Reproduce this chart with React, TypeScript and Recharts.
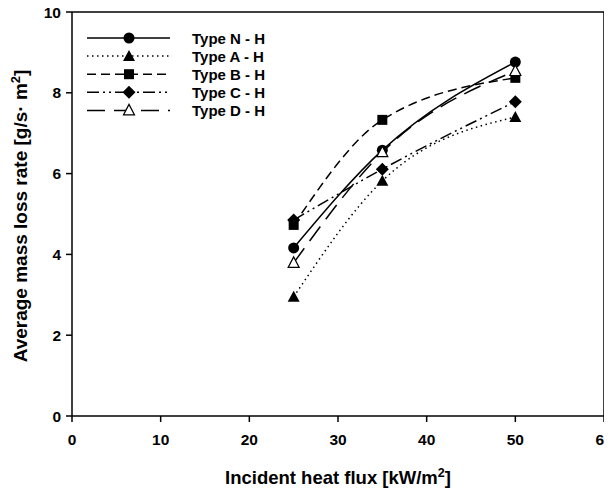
import React from 'react';
import { LineChart, Line, XAxis, YAxis, Legend, ReferenceLine } from 'recharts';

const xValues = [25, 35, 50];
const typeN = [4.16, 6.58, 8.76];
const typeA = [2.95, 5.82, 7.4];
const typeB = [4.73, 7.33, 8.37];
const typeC = [4.85, 6.11, 7.78];
const typeD = [3.79, 6.53, 8.54];
const seriesNames = ['Type N - H', 'Type A - H', 'Type B - H', 'Type C - H', 'Type D - H'];
const xTicks = [0, 10, 20, 30, 40, 50, 60];
const yTicks = [0, 2, 4, 6, 8, 10];

const seriesKeys = ['N', 'A', 'B', 'C', 'D'];
const seriesValues = [typeN, typeA, typeB, typeC, typeD];
const data = xValues.map((x, i) => {
  const row: any = { x };
  seriesKeys.forEach((k, j) => (row[k] = seriesValues[j][i]));
  return row;
});

const dashes = [undefined, '1.5 3.5', '9 5', '12 4 2 4 2 4', '18 9'];
const markers = ['circle', 'triangle', 'square', 'diamond', 'triangleOpen'];
const FONT = '"Liberation Sans", Arial, sans-serif';

function Marker({ kind, cx, cy }: { kind: string; cx: number; cy: number }) {
  if (kind === 'circle') return <circle cx={cx} cy={cy} r={5.5} fill="#000" />;
  if (kind === 'triangle')
    return <polygon points={`${cx},${cy - 6} ${cx - 6},${cy + 5} ${cx + 6},${cy + 5}`} fill="#000" />;
  if (kind === 'triangleOpen')
    return (
      <polygon
        points={`${cx},${cy - 6} ${cx - 5.5},${cy + 4.5} ${cx + 5.5},${cy + 4.5}`}
        fill="#fff"
        stroke="#000"
        strokeWidth={1.2}
      />
    );
  if (kind === 'square') return <rect x={cx - 5} y={cy - 5} width={10} height={10} fill="#000" />;
  if (kind === 'diamond')
    return <polygon points={`${cx},${cy - 6.5} ${cx + 6.5},${cy} ${cx},${cy + 6.5} ${cx - 6.5},${cy}`} fill="#000" />;
  return null;
}

function LegendBox() {
  return (
    <svg width={220} height={100} style={{ overflow: 'visible' }}>
      {seriesNames.map((name, i) => {
        const y = 10 + i * 18.1;
        return (
          <g key={name}>
            <line x1={9} x2={92} y1={y} y2={y} stroke="#000" strokeWidth={1.5} strokeDasharray={dashes[i]} />
            <Marker kind={markers[i]} cx={51} cy={y} />
            <text x={114} y={y + 5.5} fontFamily={FONT} fontWeight="bold" fontSize={15} fill="#000">
              {name}
            </text>
          </g>
        );
      })}
    </svg>
  );
}

const YLabel = () => (
  <text
    x={27}
    y={216}
    transform="rotate(-90, 27, 216)"
    textAnchor="middle"
    fontFamily={FONT}
    fontWeight="bold"
    fontSize={19}
    fill="#000"
  >
    Average mass loss rate [g/s·  m
    <tspan dy={-7} fontSize={13}>2</tspan>
    <tspan dy={7}>]</tspan>
  </text>
);

const XLabel = () => (
  <text x={338} y={484} textAnchor="middle" fontFamily={FONT} fontWeight="bold" fontSize={18.5} fill="#000">
    Incident heat flux [kW/m
    <tspan dy={-7} fontSize={12.5}>2</tspan>
    <tspan dy={7}>]</tspan>
  </text>
);

export default function App() {
  const tickStyle = { fontFamily: FONT, fontWeight: 'bold', fontSize: 15.5, fill: '#000' };
  return (
    <div style={{ margin: '-8px 0 0 -8px', width: 612, height: 492 }}>
      <LineChart width={612} height={492} data={data} margin={{ top: 12, right: 8, bottom: 0, left: 0 }}>
        <XAxis
          type="number"
          dataKey="x"
          domain={[0, 60]}
          ticks={xTicks}
          interval={0}
          height={76}
          tickSize={6}
          tickMargin={12}
          axisLine={{ stroke: '#000', strokeWidth: 1.5 }}
          tickLine={{ stroke: '#000', strokeWidth: 1.5 }}
          tick={tickStyle}
          label={<XLabel />}
        />
        <YAxis
          type="number"
          domain={[0, 10]}
          ticks={yTicks}
          interval={0}
          width={72}
          tickSize={6}
          tickMargin={5}
          axisLine={{ stroke: '#000', strokeWidth: 1.5 }}
          tickLine={{ stroke: '#000', strokeWidth: 1.5 }}
          tick={tickStyle}
          label={<YLabel />}
        />
        <ReferenceLine y={10} stroke="#000" strokeWidth={1.5} ifOverflow="extendDomain" />
        <ReferenceLine x={60} stroke="#000" strokeWidth={1.5} ifOverflow="extendDomain" />
        <Legend
          layout="horizontal"
          verticalAlign="middle"
          align="center"
          content={() => <LegendBox />}
          wrapperStyle={{ position: 'absolute', left: 78, top: 28, width: 220, height: 100 }}
        />
        {seriesKeys.map((k, i) => (
          <Line
            key={k}
            dataKey={k}
            name={seriesNames[i]}
            type="monotone"
            stroke="#000"
            strokeWidth={1.5}
            strokeDasharray={dashes[i]}
            isAnimationActive={false}
            dot={(p: any) => <Marker key={`${k}-${p.index}`} kind={markers[i]} cx={p.cx} cy={p.cy} />}
            activeDot={false}
          />
        ))}
      </LineChart>
    </div>
  );
}
